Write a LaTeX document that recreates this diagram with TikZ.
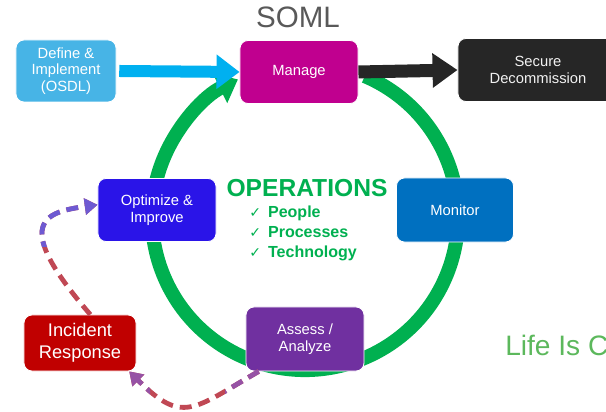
\documentclass[tikz,border=0pt]{standalone}
\usepackage{fontspec}
\setmainfont{Liberation Sans}
\newfontfamily\symfont{DejaVu Sans}
\usetikzlibrary{arrows.meta}
\definecolor{ringgreen}{RGB}{0,176,80}
\definecolor{definebl}{RGB}{71,180,230}
\definecolor{arrowbl}{RGB}{0,176,240}
\definecolor{managemg}{RGB}{192,0,143}
\definecolor{securebk}{RGB}{38,38,38}
\definecolor{optimbl}{RGB}{42,20,232}
\definecolor{monitbl}{RGB}{0,112,192}
\definecolor{assesspu}{RGB}{112,48,160}
\definecolor{incidrd}{RGB}{192,0,0}
\definecolor{somlgray}{RGB}{89,89,89}
\definecolor{lifegreen}{RGB}{92,184,92}
\definecolor{dashrd}{RGB}{192,72,84}
\definecolor{dashpu}{RGB}{150,82,165}
\definecolor{dashbl}{RGB}{110,90,210}
\newcommand{\chk}{{\symfont\mdseries\fontsize{10}{10}\selectfont ✓}\hspace{5pt}}
\newcommand{\backpath}{(assess.-145) to[out=210,in=-45,looseness=1.5] (incident.-30)}
\newcommand{\uppath}{(incident.70) .. controls (10,190) and (45,200) .. (optimize.175)}
\begin{document}
\begin{tikzpicture}[x=0.025cm,y=0.025cm,
  box/.style={draw=white,line width=0.6pt,rounded corners=0.2cm,text=white,
    align=center,inner sep=0pt,font=\fontsize{10.5}{11.7}\selectfont},
  fat/.style={line width=#1},
  dasharrow/.style={line width=3.4pt,dash pattern=on 8.5pt off 5pt,
    -{Triangle[length=0.32cm,width=0.4cm]}}]
\useasboundingbox (0,0) rectangle (606,412);
\clip (0,0) rectangle (606,412);
% ring
\draw[ringgreen,line width=0.35cm,-{Triangle[length=0.5cm,width=0.8cm]}]
  (305,195) ++(67:3.825cm) arc[start angle=67,end angle=-244,radius=3.825cm];
% boxes
\node[box,fill=definebl,minimum width=2.5cm,minimum height=1.55cm] (define) at (66,341) {Define \&\\Implement\\(OSDL)};
\node[box,fill=managemg,minimum width=2.95cm,minimum height=1.575cm] (manage) at (299,340) {Manage};
\node[box,fill=securebk,text=white!95!black,minimum width=4cm,minimum height=1.575cm] (secure) at (538,342) {Secure\\Decommission};
\node[box,fill=optimbl,minimum width=2.95cm,minimum height=1.575cm] (optimize) at (157,202) {Optimize \&\\Improve};
\node[box,fill=monitbl,minimum width=2.925cm,minimum height=1.6cm] (monitor) at (455,202) {Monitor};
\node[box,fill=assesspu,minimum width=2.95cm,minimum height=1.6cm] (assess) at (305,73) {Assess /\\Analyze};
\node[box,fill=incidrd,minimum width=2.8cm,minimum height=1.4cm,font=\fontsize{13}{15.6}\selectfont] (incident) at (80,69) {Incident\\Response};
% flow arrows
\draw[arrowbl,fat=0.3cm,-{Triangle[length=0.575cm,width=0.825cm]}] ([xshift=2]define.east) -- (manage.west);
\draw[securebk,fat=0.325cm,-{Triangle[length=0.625cm,width=0.825cm]}] (manage.east) -- (secure.west);
% dashed loops, two tones each
\draw[dasharrow,dashrd] \backpath;
\begin{scope}
  \clip (0,0) rectangle (150,60) (225,0) rectangle (300,60);
  \draw[dasharrow,dashpu] \backpath;
\end{scope}
\draw[dasharrow,dashrd] \uppath;
\begin{scope}
  \clip (0,165) rectangle (120,240);
  \draw[dasharrow,dashbl] \uppath;
\end{scope}
% texts
\node[text=somlgray,font=\fontsize{21}{21}\selectfont] (soml) at (298,395) {SOML};
\node[text=ringgreen,font=\bfseries\fontsize{17.5}{18}\selectfont] (ops) at (307,224) {OPERATIONS};
\node[text=ringgreen,font=\bfseries\fontsize{11.4}{14.2}\selectfont,align=left,anchor=west,inner sep=0pt]
  (list) at (249,179) {\chk People\\\chk Processes\\\chk Technology};
\node[text=lifegreen,font=\fontsize{20}{20}\selectfont,anchor=west,inner sep=0pt] (life) at (505,67) {Life Is C};
\end{tikzpicture}
\end{document}
